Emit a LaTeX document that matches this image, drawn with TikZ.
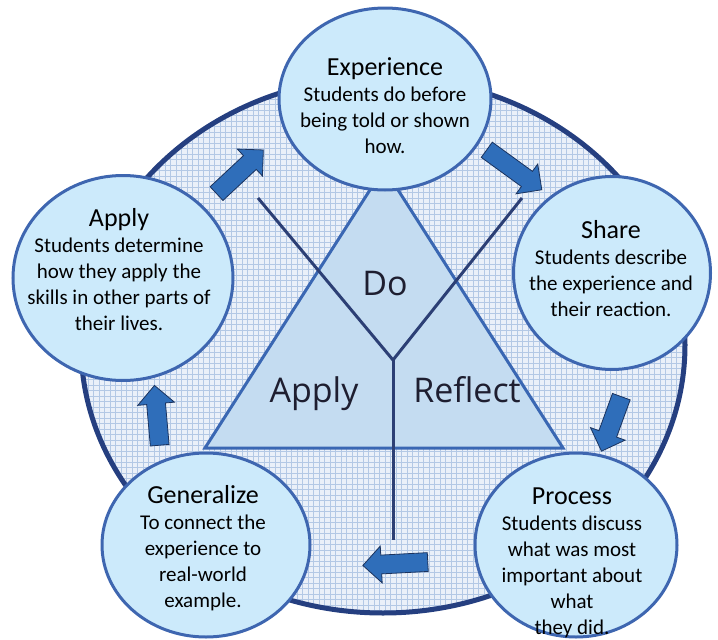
\documentclass[tikz,border=0pt]{standalone}
\usepackage{fontspec}
\setmainfont{Carlito}
\newfontfamily\handfont{Open Sans}
\usetikzlibrary{shapes.geometric,shapes.arrows}
\definecolor{ring}{HTML}{253F80}
\definecolor{gridbg}{HTML}{EAF0F9}
\definecolor{gridln}{HTML}{B3C8E5}
\definecolor{rim}{HTML}{3E66B0}
\definecolor{bubble}{HTML}{CCEAFB}
\definecolor{trifill}{HTML}{C4DCF1}
\definecolor{triedge}{HTML}{3A67B3}
\definecolor{yblue}{HTML}{2C3F75}
\definecolor{arrblue}{HTML}{2F6EBA}
\definecolor{arredge}{HTML}{1B335E}
\definecolor{handink}{HTML}{1E1E30}

\begin{document}
\begin{tikzpicture}[x=1pt,y=-1pt]
      \tikzstyle{stage}=[ellipse,draw=rim,fill=bubble,line width=3pt,inner sep=0pt]
      \tikzstyle{txt}=[align=center,font=\fontsize{21}{26}\selectfont]
      \tikzstyle{blk}=[single arrow,draw=arredge,fill=arrblue,line width=0.8pt,inner sep=9pt,single arrow head extend=9pt]
      \tikzstyle{tlab}=[anchor=base,text=handink,font=\handfont\fontsize{34}{38}\selectfont]
      \tikzstyle{yline}=[draw=yblue,line width=3pt]
      \useasboundingbox (0,0) rectangle (718,640);
      \draw[draw=ring,line width=5pt,fill=gridbg,
        path picture={\draw[gridln,line width=0.9pt,step=5.5pt] (path picture bounding box.north west) grid (path picture bounding box.south east);}]
        (383,345) ellipse [x radius=302,y radius=268];
      \draw[draw=triedge,fill=trifill,line width=3pt] (384,168) -- (205,448) -- (563,448) -- cycle;
      \coordinate (yl) at (258,198);
      \coordinate (yr) at (522,198);
      \coordinate (yc) at (393,360);
      \coordinate (yb) at (393,540);
      \draw[yline] (yl) -- (yc) -- (yr);
      \draw[yline] (yc) -- (yb);
      \node[tlab] (do) at (385,295) {Do};
      \node[tlab] (ap) at (314,402) {Apply};
      \node[tlab] (re) at (467,402) {Reflect};
      \node[blk,minimum height=64pt,rotate=43] (a1) at (236.5,175) {};
      \node[blk,minimum height=68pt,rotate=-36] (a2) at (510.5,167) {};
      \node[blk,minimum height=58pt,rotate=-110] (a3) at (613,419.5) {};
      \node[blk,minimum height=65pt,rotate=183] (a4) at (400,563.5) {};
      \node[blk,minimum height=60pt,rotate=95] (a5) at (157.5,420) {};
      \node[stage,minimum width=212pt,minimum height=182pt] (exp) at (385,99) {};
      \node[stage,minimum width=197pt,minimum height=193pt] (share) at (612,273) {};
      \node[stage,minimum width=202pt,minimum height=184pt] (proc) at (576,545) {};
      \node[stage,minimum width=208pt,minimum height=184pt] (gen) at (206,545) {};
      \node[stage,minimum width=220pt,minimum height=205pt] (apply) at (123,278) {};
      \node[txt] (expT) at (385,106) {{\fontsize{26}{27}\selectfont Experience}\\Students do before\\being told or shown\\how.};
      \node[txt] (shareT) at (611,268.5) {{\fontsize{26}{27}\selectfont Share}\\Students describe\\the experience and\\their reaction.};
      \node[txt] (procT) at (572,563) {{\fontsize{26}{27}\selectfont Process}\\Students discuss\\what was most\\important about\\what\\they did.};
      \node[txt] (genT) at (203,548.5) {{\fontsize{26}{27}\selectfont Generalize}\\To connect the\\experience to\\real-world\\example.};
      \node[txt] (applyT) at (119,270) {{\fontsize{26}{27}\selectfont Apply}\\Students determine\\how they apply the\\skills in other parts of\\their lives.};
    \end{tikzpicture}
\end{document}
